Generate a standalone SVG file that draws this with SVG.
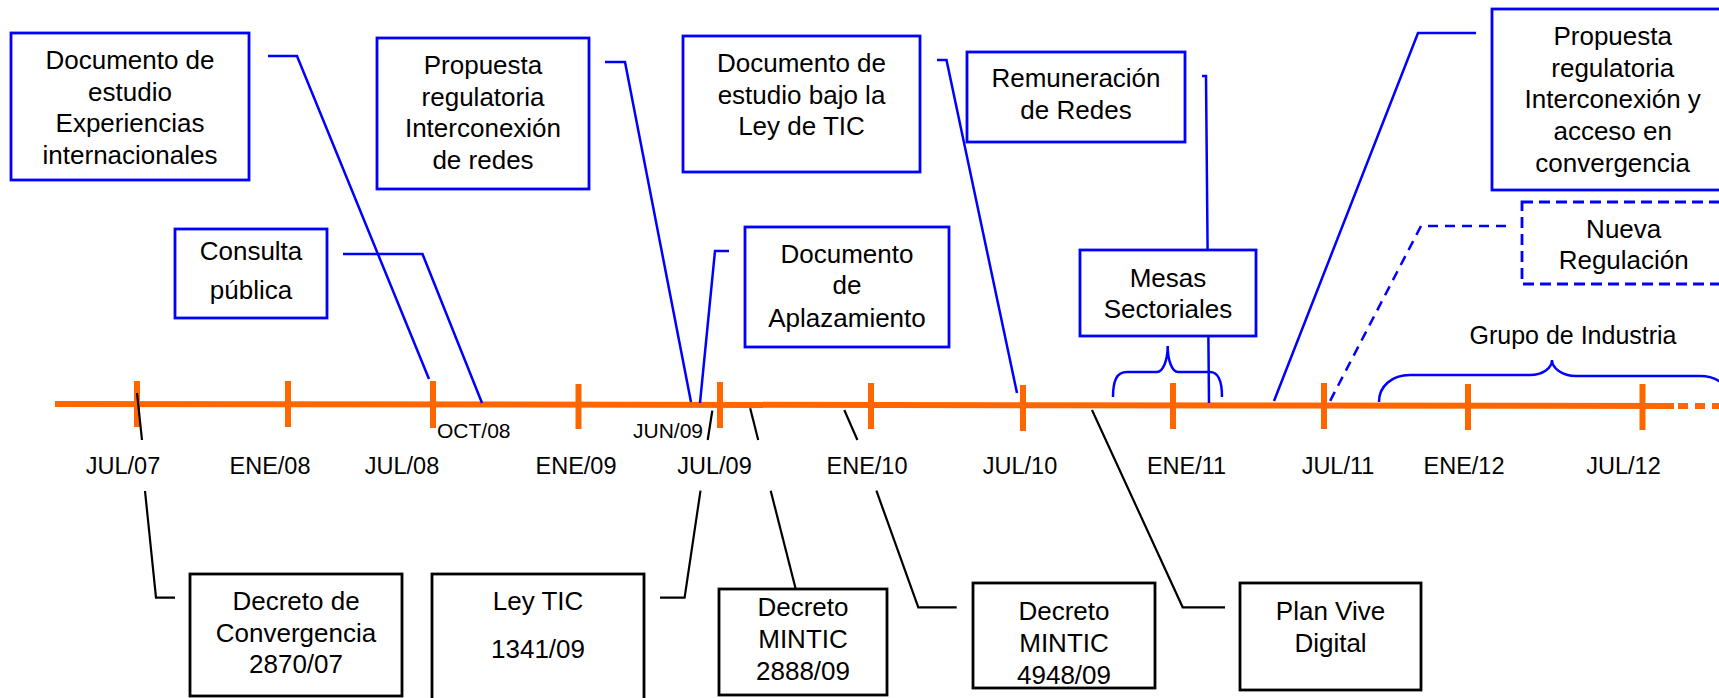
<svg xmlns="http://www.w3.org/2000/svg" width="1719" height="698" viewBox="0 0 1719 698">
<style>
.bx{fill:#fff;stroke:#0000ff;stroke-width:2.8}
.bxd{fill:#fff;stroke:#0000ff;stroke-width:2.8;stroke-dasharray:11 6}
.kx{fill:#fff;stroke:#000;stroke-width:2.8}
.t{font-family:"Liberation Sans",Arial,sans-serif;font-size:26px;fill:#000;text-anchor:middle}
.lb{font-family:"Liberation Sans",Arial,sans-serif;font-size:23.5px;fill:#000;text-anchor:middle}
.sm{font-family:"Liberation Sans",Arial,sans-serif;font-size:21px;fill:#000}
.cb{fill:none;stroke:#0000ff;stroke-width:2.5}
.cbd{fill:none;stroke:#0000ff;stroke-width:2.5;stroke-dasharray:10 7}
.ck{fill:none;stroke:#000;stroke-width:2.2}
.tl{stroke:#ff6600;stroke-width:6;fill:none}
</style>
<rect width="1719" height="698" fill="#fff"/>
<g id="timeline">
<line class="tl" x1="55" y1="404" x2="1674" y2="406"/>
<line class="tl" x1="1678" y1="406" x2="1719" y2="406" stroke-dasharray="10 7"/>
<line class="tl" x1="137" y1="381" x2="137" y2="427"/>
<line class="tl" x1="288" y1="381" x2="288" y2="427"/>
<line class="tl" x1="433" y1="381" x2="433" y2="428"/>
<line class="tl" x1="578.5" y1="384" x2="578.5" y2="429"/>
<line class="tl" x1="720" y1="382" x2="720" y2="428"/>
<line class="tl" x1="871" y1="383" x2="871" y2="429"/>
<line class="tl" x1="1023" y1="385" x2="1023" y2="431"/>
<line class="tl" x1="1173" y1="383" x2="1173" y2="429"/>
<line class="tl" x1="1324" y1="383" x2="1324" y2="429"/>
<line class="tl" x1="1468" y1="384" x2="1468" y2="430"/>
<line class="tl" x1="1642.5" y1="384" x2="1642.5" y2="430"/>
<text class="lb" x="123" y="474">JUL/07</text>
<text class="lb" x="270" y="474">ENE/08</text>
<text class="lb" x="402" y="474">JUL/08</text>
<text class="lb" x="576" y="474">ENE/09</text>
<text class="lb" x="714.5" y="474">JUL/09</text>
<text class="lb" x="867" y="474">ENE/10</text>
<text class="lb" x="1020" y="474">JUL/10</text>
<text class="lb" x="1186.5" y="474">ENE/11</text>
<text class="lb" x="1338" y="474">JUL/11</text>
<text class="lb" x="1464" y="474">ENE/12</text>
<text class="lb" x="1623.5" y="474">JUL/12</text>
<text class="sm" x="437" y="438">OCT/08</text>
<text class="sm" x="703" y="438" text-anchor="end">JUN/09</text>
</g>
<g id="connectors">
<polyline class="cb" points="268,56 297,56 429,379"/>
<polyline class="cb" points="343,254 422.5,254 482,403"/>
<polyline class="cb" points="605,62 625,62 691,402"/>
<polyline class="cb" points="729,251 715,251 700,403"/>
<polyline class="cb" points="937,60 946.5,60 1017,393"/>
<polyline class="cb" points="1202,76 1206,76 1209,403"/>
<polyline class="cb" points="1476,33 1418,33 1274,401"/>
<polyline class="cbd" points="1506,226 1421,226 1328,405"/>
<path class="cb" d="M1113,397 C1113,380 1117,372 1127,372 L1157,372 C1163,372 1167.7,360 1167.7,346 C1167.7,360 1172,372 1178,372 L1210,372 C1218,372 1222,380 1222,397"/>
<path class="cb" d="M1379,402 C1379,386 1392,375 1410,375 L1530,375 C1543,375 1552,368 1552,360 C1552,368 1562,376 1576,376 L1700,376 C1718,376 1730,386 1730,402"/>
<line class="ck" x1="137" y1="393" x2="142" y2="440"/>
<polyline class="ck" points="145,491 156,597.7 175,597.7"/>
<line class="ck" x1="712.3" y1="410.7" x2="707.7" y2="440"/>
<polyline class="ck" points="700.5,490.7 684.6,597.7 660,597.7"/>
<line class="ck" x1="750.2" y1="408.3" x2="758.2" y2="440"/>
<line class="ck" x1="770.7" y1="490.7" x2="795.7" y2="589"/>
<line class="ck" x1="844.3" y1="410" x2="857.4" y2="440"/>
<polyline class="ck" points="876.4,490.7 918.3,607.3 956.7,607.3"/>
<polyline class="ck" points="1092,410 1182.7,607.3 1225,607.3"/>
</g>
<g id="n1"><rect class="bx" x="11" y="33" width="238" height="147"/>
<text class="t" x="130" y="69">Documento de</text><text class="t" x="130" y="100.7">estudio</text><text class="t" x="130" y="132.4">Experiencias</text><text class="t" x="130" y="164">internacionales</text></g>
<g id="n2"><rect class="bx" x="377" y="38" width="212" height="151"/>
<text class="t" x="483" y="74">Propuesta</text><text class="t" x="483" y="105.7">regulatoria</text><text class="t" x="483" y="137.4">Interconexión</text><text class="t" x="483" y="169">de redes</text></g>
<g id="n3"><rect class="bx" x="683" y="36" width="237" height="136"/>
<text class="t" x="801.5" y="72">Documento de</text><text class="t" x="801.5" y="103.7">estudio bajo la</text><text class="t" x="801.5" y="135.4">Ley de TIC</text></g>
<g id="n4"><rect class="bx" x="967" y="52" width="218" height="90"/>
<text class="t" x="1076" y="87.3">Remuneración</text><text class="t" x="1076" y="119">de Redes</text></g>
<g id="n5"><rect class="bx" x="175" y="229" width="152" height="89"/>
<text class="t" x="251" y="260">Consulta</text><text class="t" x="251" y="299">pública</text></g>
<g id="n6"><rect class="bx" x="745" y="227" width="204" height="120"/>
<text class="t" x="847" y="262.7">Documento</text><text class="t" x="847" y="294.3">de</text><text class="t" x="847" y="326.7">Aplazamiento</text></g>
<g id="n7"><rect class="bx" x="1080" y="250" width="176" height="86"/>
<text class="t" x="1168" y="286.7">Mesas</text><text class="t" x="1168" y="318.3">Sectoriales</text></g>
<g id="n8"><rect class="bx" x="1492" y="9" width="245" height="181"/>
<text class="t" x="1612.7" y="45">Propuesta</text><text class="t" x="1612.7" y="76.7">regulatoria</text><text class="t" x="1612.7" y="108.4">Interconexión y</text><text class="t" x="1612.7" y="140">acceso en</text><text class="t" x="1612.7" y="171.7">convergencia</text></g>
<g id="n9"><rect class="bxd" x="1522" y="202" width="220" height="82"/>
<text class="t" x="1623.7" y="237.7">Nueva</text><text class="t" x="1623.7" y="269.3">Regulación</text></g>
<g id="n10"><text class="t" x="1573" y="344.3" style="font-size:25px">Grupo de Industria</text></g>
<g id="b1"><rect class="kx" x="190" y="574" width="212" height="122"/>
<text class="t" x="296" y="610">Decreto de</text><text class="t" x="296" y="641.7">Convergencia</text><text class="t" x="296" y="673">2870/07</text></g>
<g id="b2"><rect class="kx" x="432" y="574" width="212" height="140"/>
<text class="t" x="538" y="610">Ley TIC</text><text class="t" x="538" y="658">1341/09</text></g>
<g id="b3"><rect class="kx" x="719" y="589" width="168" height="106"/>
<text class="t" x="803" y="616">Decreto</text><text class="t" x="803" y="648">MINTIC</text><text class="t" x="803" y="680">2888/09</text></g>
<g id="b4"><rect class="kx" x="973" y="583" width="182" height="105"/>
<text class="t" x="1064" y="620">Decreto</text><text class="t" x="1064" y="652">MINTIC</text><text class="t" x="1064" y="683.5">4948/09</text></g>
<g id="b5"><rect class="kx" x="1240" y="583" width="181" height="107"/>
<text class="t" x="1330.5" y="620">Plan Vive</text><text class="t" x="1330.5" y="651.7">Digital</text></g>
</svg>
